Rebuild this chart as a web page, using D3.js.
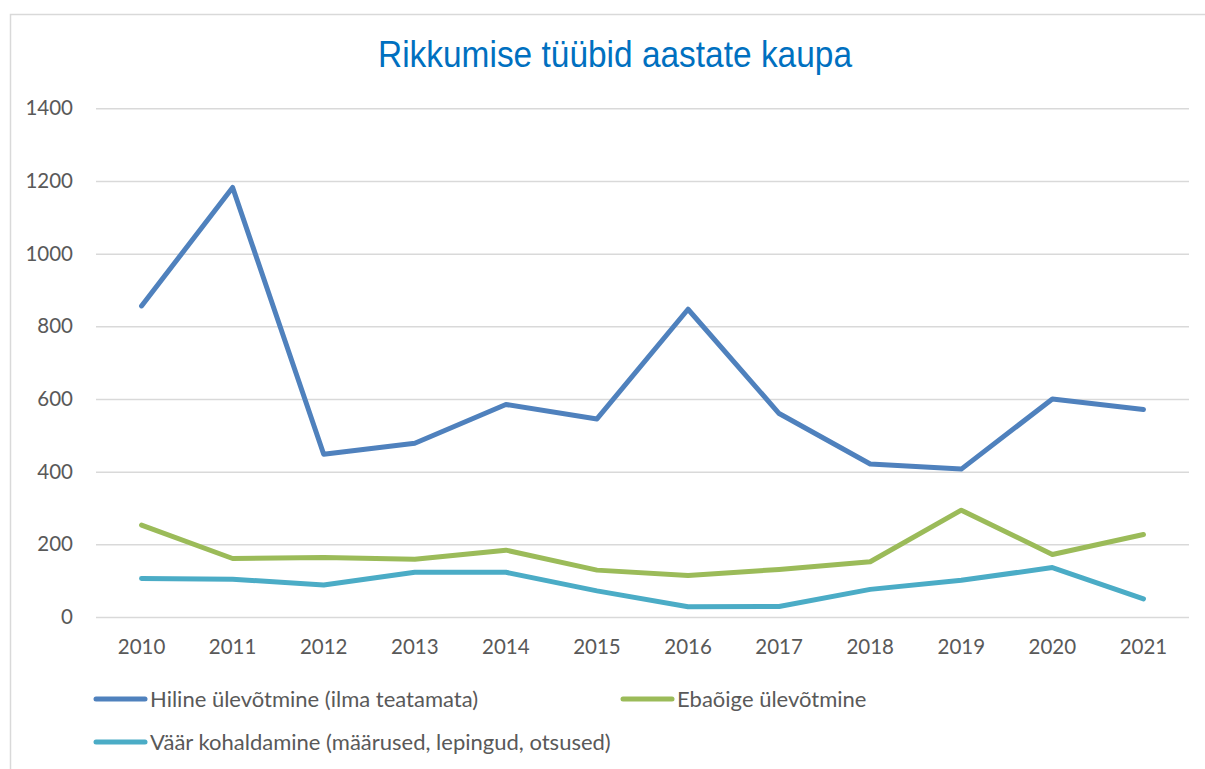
<!DOCTYPE html>
<html>
<head>
<meta charset="utf-8">
<script src="https://cdn.jsdelivr.net/npm/d3@7"></script>
<style>
  body { margin: 0; background: #fff; }
  svg { display: block; }
</style>
</head>
<body>
<svg id="chart"></svg>
<script>
// ---- data ----
const years = ["2010", "2011", "2012", "2013", "2014", "2015", "2016", "2017", "2018", "2019", "2020", "2021"];
const hiline = [856, 1182, 448, 478, 585, 545, 847, 560, 421, 407, 600, 571];
const ebaoige = [253, 161, 164, 159, 184, 129, 114, 131, 152, 294, 172, 227];
const vaar = [106, 104, 88, 123, 123, 72, 28, 29, 76, 101, 136, 50];
const yTicks = [0, 200, 400, 600, 800, 1000, 1200, 1400];

const seriesNames = [
  "Hiline ülevõtmine (ilma teatamata)",
  "Ebaõige ülevõtmine",
  "Väär kohaldamine (määrused, lepingud, otsused)",
];
const seriesColors = ["#4F81BD", "#9BBB59", "#4BACC6"];
const series = [hiline, ebaoige, vaar];

const width = 1205, height = 769;
const margin = { top: 108, right: 16, bottom: 152, left: 96 };

const svg = d3.select("#chart").attr("width", width).attr("height", height);

// outer chart frame (cut off at right / bottom like the reference)
svg.append("rect")
  .attr("x", 10.5).attr("y", 14.5)
  .attr("width", width + 20).attr("height", height + 20)
  .attr("fill", "#fff")
  .attr("stroke", "#D9D9D9")
  .attr("stroke-width", 1.5);

// title
svg.append("text")
  .attr("x", 378).attr("y", 66.5)
  .attr("textLength", 474)
  .attr("lengthAdjust", "spacingAndGlyphs")
  .style("font-family", "'Liberation Sans', Arial, sans-serif")
  .style("font-size", "37px")
  .attr("fill", "#0070C0")
  .text("Rikkumise tüübid aastate kaupa");

const x = d3.scaleBand()
  .domain(years)
  .range([margin.left, 1189]);

const y = d3.scaleLinear()
  .domain([0, 1400])
  .range([617, 108.3]);

const tickFont = "Lato, 'Open Sans', sans-serif";

// gridlines + y labels
const yAxis = svg.append("g")
  .attr("transform", `translate(${margin.left},0)`)
  .call(d3.axisLeft(y).tickValues(yTicks).tickFormat(d3.format("d"))
    .tickSize(-(1189 - margin.left)).tickPadding(23));
yAxis.select(".domain").remove();
yAxis.selectAll(".tick line").attr("stroke", "#D9D9D9").attr("stroke-width", 1.5);
yAxis.selectAll(".tick text")
  .attr("fill", "#595959")
  .style("font-family", tickFont)
  .style("font-size", "20.5px");

// x labels
const xAxis = svg.append("g")
  .attr("transform", `translate(0,617)`)
  .call(d3.axisBottom(x).tickSize(0).tickPadding(22));
xAxis.select(".domain").remove();
xAxis.selectAll(".tick text")
  .attr("fill", "#595959")
  .style("font-family", tickFont)
  .style("font-size", "20.5px");

// lines
const line = d3.line()
  .x((d, i) => x(years[i]) + x.bandwidth() / 2)
  .y((d) => y(d));

series.forEach((s, i) => {
  svg.append("path")
    .datum(s)
    .attr("fill", "none")
    .attr("stroke", seriesColors[i])
    .attr("stroke-width", 5)
    .attr("stroke-linejoin", "round")
    .attr("stroke-linecap", "round")
    .attr("d", line);
});

// legend
const legendPos = [
  { x: 94, y: 699 },
  { x: 621, y: 699 },
  { x: 94, y: 742 },
];
seriesNames.forEach((name, i) => {
  const g = svg.append("g").attr("transform", `translate(${legendPos[i].x},${legendPos[i].y})`);
  g.append("line")
    .attr("x1", 2).attr("x2", 51)
    .attr("stroke", seriesColors[i])
    .attr("stroke-width", 5)
    .attr("stroke-linecap", "round");
  g.append("text")
    .attr("x", 56).attr("y", 7.5)
    .attr("fill", "#595959")
    .style("font-family", tickFont)
    .style("font-size", "22px")
    .text(name);
});
</script>
</body>
</html>
